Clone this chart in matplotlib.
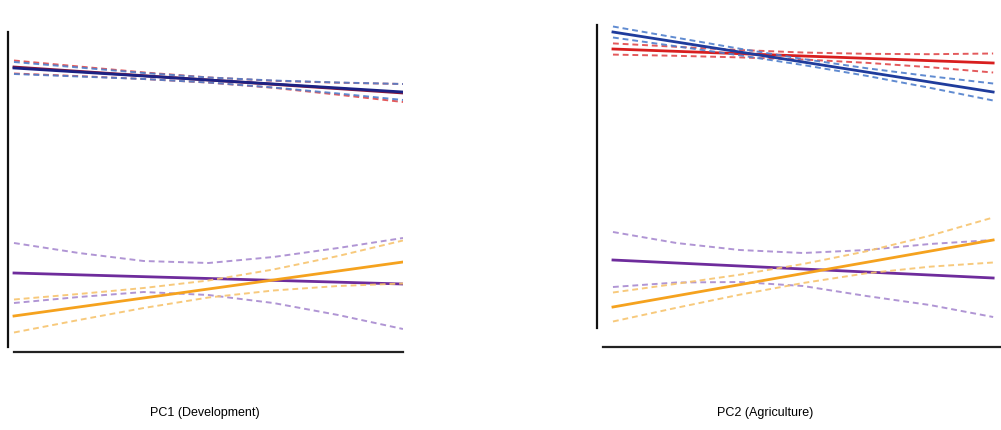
import matplotlib
matplotlib.use('Agg')
import matplotlib.pyplot as plt
import numpy as np

plt.rcParams['font.family'] = ['Liberation Sans', 'DejaVu Sans']

# positions along each component (scaled 0..1)
x_line = [0.0, 1.0]
x_band = [0.0, 1/6, 2/6, 3/6, 4/6, 5/6, 1.0]

# PC1 (Development)
pc1_red = [2.85, 2.59]
pc1_red_hi = [2.915, 2.855, 2.796, 2.746, 2.712, 2.693, 2.68]
pc1_red_lo = [2.785, 2.759, 2.73, 2.694, 2.642, 2.573, 2.50]
pc1_blue = [2.84, 2.60]
pc1_blue_hi = [2.90, 2.845, 2.79, 2.745, 2.715, 2.695, 2.68]
pc1_blue_lo = [2.78, 2.755, 2.73, 2.695, 2.645, 2.585, 2.52]
pc1_purple = [0.79, 0.68]
pc1_purple_hi = [1.09, 0.99, 0.91, 0.89, 0.95, 1.04, 1.14]
pc1_purple_lo = [0.49, 0.55, 0.60, 0.57, 0.49, 0.37, 0.23]
pc1_orange = [0.36, 0.90]
pc1_orange_hi = [0.525, 0.58, 0.64, 0.715, 0.825, 0.96, 1.115]
pc1_orange_lo = [0.195, 0.32, 0.44, 0.545, 0.615, 0.66, 0.685]

# PC2 (Agriculture)
pc2_red = [2.98, 2.84]
pc2_red_hi = [3.036, 3.002, 2.97, 2.945, 2.932, 2.928, 2.935]
pc2_red_lo = [2.924, 2.912, 2.896, 2.875, 2.842, 2.798, 2.745]
pc2_blue = [3.15, 2.55]
pc2_blue_hi = [3.205, 3.093, 2.983, 2.88, 2.788, 2.708, 2.635]
pc2_blue_lo = [3.095, 3.007, 2.917, 2.82, 2.712, 2.592, 2.465]
pc2_purple = [0.87, 0.69]
pc2_purple_hi = [1.15, 1.04, 0.97, 0.94, 0.97, 1.03, 1.07]
pc2_purple_lo = [0.60, 0.645, 0.65, 0.61, 0.51, 0.42, 0.30]
pc2_orange = [0.40, 1.07]
pc2_orange_hi = [0.545, 0.632, 0.723, 0.83, 0.957, 1.113, 1.295]
pc2_orange_lo = [0.255, 0.392, 0.523, 0.64, 0.737, 0.803, 0.845]

colors = {
    'red': ('#d81e1e', '#e0484a'),
    'blue': ('#1f3c9c', '#4f7fcc'),
    'purple': ('#6e2c9c', '#a88ad0'),
    'orange': ('#f5a21e', '#f7c46e'),
}


def draw_group(ax, name, mid, hi, lo, solid_color=None):
    solid, dashed = colors[name]
    if solid_color is not None:
        solid = solid_color
    ax.plot(x_band, hi, color=dashed, lw=1.4, ls=(0, (3, 2)), alpha=0.9)
    ax.plot(x_band, lo, color=dashed, lw=1.4, ls=(0, (3, 2)), alpha=0.9)
    ax.plot(x_line, mid, color=solid, lw=2.0)


fig = plt.figure(figsize=(10.01, 4.30), dpi=100)

ax1 = fig.add_axes([8/1001, 78/430, 395/1001, 327/430])
draw_group(ax1, 'purple', pc1_purple, pc1_purple_hi, pc1_purple_lo)
draw_group(ax1, 'orange', pc1_orange, pc1_orange_hi, pc1_orange_lo)
draw_group(ax1, 'red', pc1_red, pc1_red_hi, pc1_red_lo, solid_color='#8a1a3a')
draw_group(ax1, 'blue', pc1_blue, pc1_blue_hi, pc1_blue_lo, solid_color='#1c2284')
ax1.set_xlim(-0.0154, 1.0)
ax1.set_ylim(0, 3.27)
ax1.spines['left'].set_bounds(0.05, 3.2)
ax1.spines['bottom'].set_bounds(0.0, 1.0)

ax2 = fig.add_axes([597/1001, 83/430, 403/1001, 322/430])
draw_group(ax2, 'purple', pc2_purple, pc2_purple_hi, pc2_purple_lo)
draw_group(ax2, 'orange', pc2_orange, pc2_orange_hi, pc2_orange_lo)
draw_group(ax2, 'red', pc2_red, pc2_red_hi, pc2_red_lo)
draw_group(ax2, 'blue', pc2_blue, pc2_blue_hi, pc2_blue_lo)
ax2.set_xlim(-0.042, 1.018)
ax2.set_ylim(0, 3.22)
ax2.spines['left'].set_bounds(0.19, 3.22)
ax2.spines['bottom'].set_bounds(-0.026, 1.018)

for ax in (ax1, ax2):
    ax.spines['top'].set_visible(False)
    ax.spines['right'].set_visible(False)
    ax.spines['left'].set_linewidth(1.6)
    ax.spines['bottom'].set_linewidth(1.6)
    ax.spines['left'].set_color('#111111')
    ax.spines['bottom'].set_color('#222222')
    ax.set_xticks([])
    ax.set_yticks([])
    ax.patch.set_alpha(0)

fig.text(205/1001, 1 - 413/430, 'PC1 (Development)', ha='center', va='center', fontsize=9)
fig.text(765/1001, 1 - 413/430, 'PC2 (Agriculture)', ha='center', va='center', fontsize=9)

fig.savefig('out.png', dpi=100, facecolor='white')
